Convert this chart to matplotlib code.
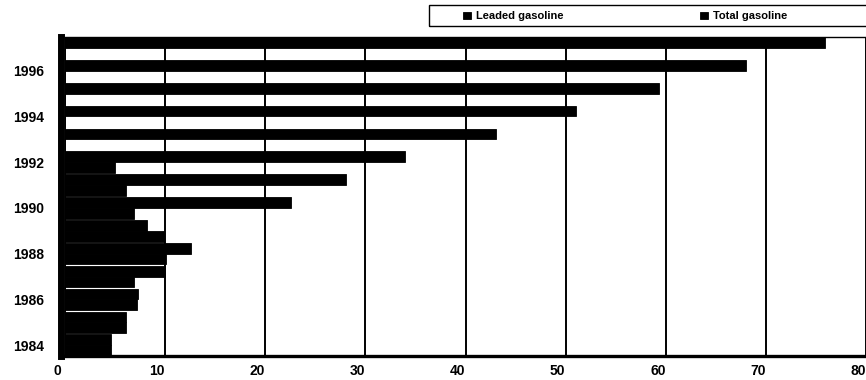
import matplotlib
matplotlib.use("Agg")
import matplotlib.pyplot as plt
import matplotlib.patches as mpatches
import matplotlib.transforms as mtransforms
import numpy as np

plt.rcParams['font.family'] = ['Liberation Sans', 'DejaVu Sans']
plt.rcParams['font.weight'] = 'bold'

years = [1984, 1985, 1986, 1987, 1988, 1989, 1990,
         1991, 1992, 1993, 1994, 1995, 1996, 1997]
leaded = [4.6, 6.1, 7.2, 6.9, 10.1, 9.9, 6.9,
          6.1, 5.0, 0, 0, 0, 0, 0]
total = [4.6, 6.1, 7.3, 10.0, 12.6, 8.2, 22.6,
         28.1, 34.0, 43.0, 51.0, 59.3, 68.0, 75.9]
year_labels = [1984, 1986, 1988, 1990, 1992, 1994, 1996]
x_ticks = [0, 10, 20, 30, 40, 50, 60, 70, 80]

fig = plt.figure(figsize=(8.66, 3.80), dpi=100)
ax = fig.add_axes([65 / 866, 24 / 380, 801 / 866, 319 / 380])

pos = np.arange(len(years))
h = 0.47
ax.barh(pos - h / 2, leaded, height=h, color='black', edgecolor='black',
        linewidth=0.6, label='Leaded gasoline', zorder=2)
ax.barh(pos + h / 2, total, height=h, color='black', edgecolor='black',
        linewidth=0.6, label='Total gasoline', zorder=2)

ax.set_xlim(0, 80)
ax.set_ylim(-h, len(years) - 1 + h)
ax.tick_params(length=0)
ax.tick_params(axis='y', pad=12)
ax.tick_params(axis='x', pad=6)
ax.set_xticks(x_ticks)
ax.set_xticklabels([str(t) for t in x_ticks], fontsize=10, fontweight='bold')
ax.set_yticks([years.index(y) for y in year_labels])
ax.set_yticklabels([str(y) for y in year_labels], fontsize=10, fontweight='bold')

# shift tick labels a touch like the old printout
dx = mtransforms.ScaledTranslation(-8 / 100, 0, fig.dpi_scale_trans)
dy = mtransforms.ScaledTranslation(0, -3 / 100, fig.dpi_scale_trans)
for lbl in ax.get_xticklabels():
    lbl.set_transform(lbl.get_transform() + dx)
for lbl in ax.get_yticklabels():
    lbl.set_transform(lbl.get_transform() + dy)

ax.xaxis.grid(True, color='black', linewidth=1.4)
ax.set_axisbelow(True)

ax.spines['left'].set_linewidth(5)
ax.spines['left'].set_position(('outward', 3))
ax.spines['bottom'].set_linewidth(2.4)
ax.spines['top'].set_linewidth(1.0)
ax.spines['right'].set_visible(False)

# legend box along the top
frame = mpatches.Rectangle((429 / 866, 1 - 26 / 380), 0.6, 21 / 380,
                           transform=fig.transFigure, fill=False,
                           edgecolor='black', linewidth=1.0)
fig.patches.append(frame)
handles, labels = ax.get_legend_handles_labels()
fig.legend(handles, labels, loc='center left',
           bbox_to_anchor=(463 / 866, 1 - 16 / 380), ncol=2, frameon=False,
           prop={'size': 8, 'weight': 'bold'}, handlelength=0.75,
           handleheight=0.6, handletextpad=0.45, columnspacing=12.25,
           borderpad=0, borderaxespad=0)

fig.savefig('out.png', dpi=100)
